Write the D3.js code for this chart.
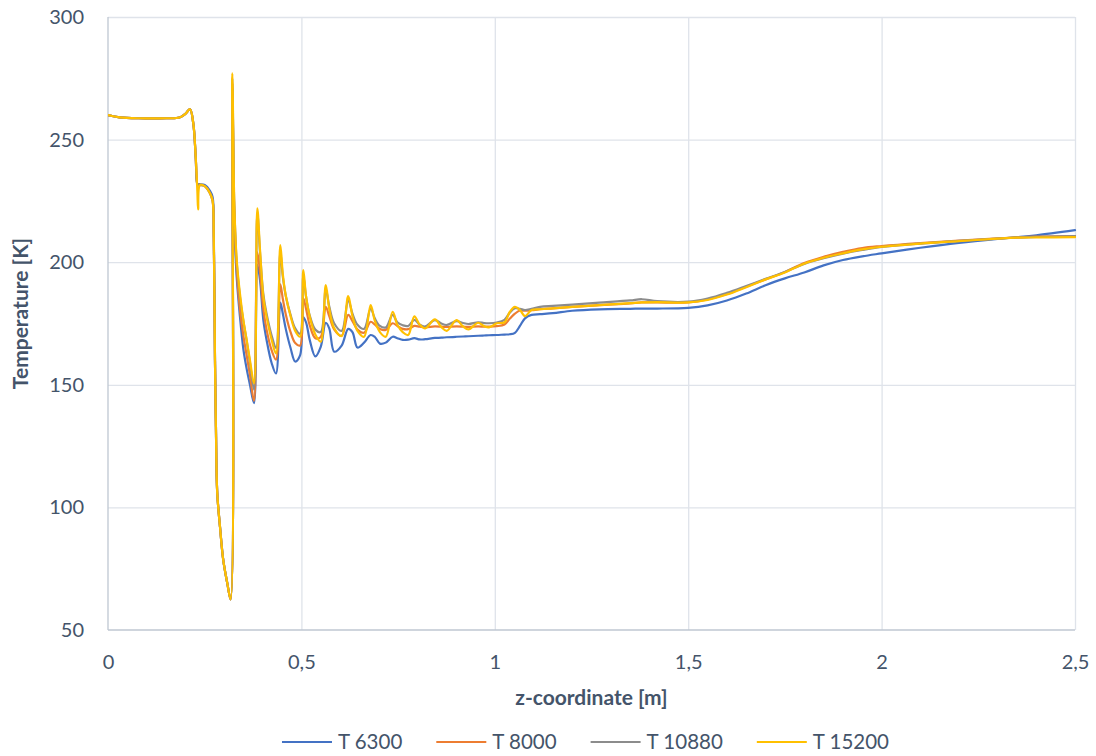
<!DOCTYPE html>
<html>
<head>
<meta charset="utf-8">
<script src="https://cdn.jsdelivr.net/npm/d3@7"></script>
<style>
  body { margin: 0; background: #ffffff; }
  svg { display: block; font-family: Lato, "Open Sans", sans-serif; }
</style>
</head>
<body>
<svg id="chart" width="1096" height="756"></svg>
<script>
// Axial position along the channel [m]
const zCoord = [0, 0.03, 0.08, 0.15, 0.185, 0.2, 0.212, 0.2205, 0.2267, 0.231,
  0.233, 0.238, 0.25, 0.264, 0.2705, 0.2735, 0.2766, 0.279, 0.2824, 0.2896,
  0.298, 0.3085, 0.317, 0.3214, 0.3257, 0.3285, 0.3327, 0.341, 0.35, 0.3585,
  0.367, 0.3775, 0.386, 0.393, 0.4016, 0.41, 0.4232, 0.4343, 0.4455, 0.452,
  0.46, 0.472, 0.484, 0.4965, 0.505, 0.512, 0.522, 0.536, 0.55, 0.563,
  0.572, 0.585, 0.604, 0.621, 0.632, 0.645, 0.662, 0.679, 0.69, 0.703,
  0.718, 0.736, 0.748, 0.762, 0.776, 0.792, 0.806, 0.82, 0.845, 0.862,
  0.876, 0.901, 0.918, 0.932, 0.957, 0.972, 0.985, 1.005, 1.025, 1.039,
  1.052, 1.065, 1.078, 1.095, 1.117, 1.15, 1.2, 1.27, 1.35, 1.38,
  1.42, 1.5, 1.55, 1.6, 1.65, 1.7, 1.75, 1.8, 1.85, 1.9,
  1.95, 2.0, 2.1, 2.2, 2.3, 2.35, 2.4, 2.5];

// Temperature [K] for each case
const t6300 = [260, 259.1, 258.7, 258.7, 259.0, 260.5, 262.4, 256.6, 243, 231.5,
  231.8, 231.8, 231.5, 229, 226.5, 212, 160, 133, 106, 92,
  78.5, 69, 62.5, 271, 222, 207.8, 194, 178, 164.5, 156.5,
  150, 142.5, 199, 192.7, 176.4, 168.3, 158.8, 154.6, 183.5, 179,
  172.5, 165, 159.5, 162, 177.5, 175.5, 168, 161.6, 165.5, 175.3,
  173, 163.5, 166, 172.8, 171.5, 165.2, 167.2, 170.3, 169.5, 166.8,
  167.2, 169.6, 169, 168.3, 168.4, 169, 168.5, 168.6, 169.1, 169.2,
  169.4, 169.6, 169.7, 169.8, 170, 170.1, 170.2, 170.3, 170.5, 170.6,
  171.2, 174, 177.1, 178.5, 178.8, 179.2, 180.2, 180.8, 181, 181.1,
  181.1, 181.4, 182.4, 184.4, 187.2, 190.6, 193.4, 195.8, 198.7, 200.9,
  202.4, 203.6, 205.9, 207.9, 209.5, 210.2, 211, 213.1];

const t8000 = [260, 259.1, 258.7, 258.7, 259.0, 260.5, 262.4, 256.6, 243, 231.5,
  231.8, 231.5, 231, 228, 225, 210, 160, 133, 106, 92,
  78.5, 69, 62.5, 273, 225, 211, 197, 181, 170, 162,
  154, 143.5, 204, 196, 181, 172.5, 164, 160.3, 191, 185,
  178.5, 171.5, 167, 166, 185.3, 181, 174, 169, 169.5, 181.8,
  178, 172.5, 170, 178.5, 176, 172.5, 171.2, 175.7, 174.5, 172.8,
  172.4, 175.1, 174, 172.8, 172.7, 174, 173.7, 173.5, 173.8, 173.7,
  173.6, 173.8, 173.7, 173.6, 173.8, 173.7, 173.7, 173.9, 174.6, 177,
  179, 180.3, 180.2, 180.4, 180.8, 181.2, 181.8, 182.5, 183.2, 183.6,
  183.6, 183.6, 184.8, 187, 190, 193, 196, 199.7, 202.2, 204.2,
  205.8, 206.6, 207.8, 208.8, 209.7, 210.1, 210.4, 210.6];

const t10880 = [260, 259.1, 258.7, 258.7, 259.0, 260.5, 262.4, 256.6, 243, 231.5,
  231.8, 231.5, 231, 228, 225, 210, 160, 133, 106, 92,
  78.5, 69, 62.5, 275, 228, 214, 200, 186, 176, 168,
  159, 148, 220, 204, 187, 179, 170, 165, 204, 194,
  186, 178.5, 173, 170.8, 194.5, 186, 178, 172.5, 171.5, 189,
  182, 175, 172, 184.5, 179, 174.5, 172.8, 181, 177, 174,
  173.4, 178.5, 175.5, 174.3, 174, 176.5, 174.5, 173.8, 176.4, 175,
  174.4, 176, 175.2, 174.8, 175.5, 175.2, 175.1, 175.4, 176.5, 179.5,
  181.2, 181, 180.5, 181, 181.8, 182.2, 182.7, 183.5, 184.4, 184.9,
  184.1, 183.9, 185.2, 187.5, 190.3, 193.2, 196, 199.3, 201.6, 203.5,
  205, 206.2, 207.6, 208.7, 209.6, 210.1, 210.3, 210.6];

const t15200 = [260, 259.1, 258.7, 258.7, 259.0, 260.5, 262.4, 256.6, 243, 229,
  221.5, 231.5, 231, 228, 225, 210, 160, 133, 106, 92,
  78.5, 69, 62.5, 277, 230, 214.5, 201, 187.4, 176.4, 168.3,
  160, 150.6, 222, 205, 186, 177.8, 168.3, 162.8, 207, 195,
  186, 178, 172, 169.6, 196.8, 186, 177.5, 170.5, 167.6, 190.7,
  181, 173, 169.9, 186.2, 178, 172, 169.6, 182.5, 176, 171.5,
  169.6, 179.8, 174.5, 171.5, 170.3, 177.9, 174.5, 173, 176.7, 173.5,
  172, 176.4, 173.8, 172.6, 175.3, 174, 173.4, 175.1, 175.5, 179.8,
  181.8, 180.5, 178, 180.5, 180.8, 181.2, 181.8, 182.5, 183.3, 183.6,
  183.7, 183.6, 184.6, 186.8, 189.8, 193, 195.8, 199.4, 201.8, 203.6,
  205.2, 206.3, 207.6, 208.6, 209.6, 210, 210.1, 210.2];

const seriesNames = ["T 6300", "T 8000", "T 10880", "T 15200"];
const seriesValues = [t6300, t8000, t10880, t15200];
const seriesColors = ["#4472C4", "#ED7D31", "#8C8C8C", "#FFC000"];

const xTickValues = [0, 0.5, 1, 1.5, 2, 2.5];
const yTickValues = [50, 100, 150, 200, 250, 300];
const xTitle = "z-coordinate [m]";
const yTitle = "Temperature [K]";

// ---- layout ----
const plot = { left: 108, right: 1075, top: 17, bottom: 630 };
const textColor = "#44546A";
const gridColor = "#DFE3EA";
const axisColor = "#BFC7D2";

const svg = d3.select("#chart");

const x = d3.scaleLinear().domain([0, 2.5]).range([plot.left, plot.right]);
const y = d3.scaleLinear().domain([50, 300]).range([plot.bottom, plot.top]);

const fmt = d => String(d).replace(".", ",");

// gridlines
svg.append("g")
  .attr("transform", `translate(0,${plot.bottom})`)
  .call(d3.axisBottom(x).tickValues(xTickValues.filter(v => v > 0))
    .tickSize(-(plot.bottom - plot.top)).tickFormat(""))
  .call(g => g.select(".domain").remove())
  .call(g => g.selectAll("line").attr("stroke", gridColor).attr("stroke-width", 1.3));

svg.append("g")
  .attr("transform", `translate(${plot.left},0)`)
  .call(d3.axisLeft(y).tickValues(yTickValues.filter(v => v > 50))
    .tickSize(-(plot.right - plot.left)).tickFormat(""))
  .call(g => g.select(".domain").remove())
  .call(g => g.selectAll("line").attr("stroke", gridColor).attr("stroke-width", 1.3));

// axis lines
svg.append("line")
  .attr("x1", plot.left).attr("x2", plot.left)
  .attr("y1", plot.top).attr("y2", plot.bottom)
  .attr("stroke", axisColor).attr("stroke-width", 1.3);
svg.append("line")
  .attr("x1", plot.left).attr("x2", plot.right)
  .attr("y1", plot.bottom).attr("y2", plot.bottom)
  .attr("stroke", axisColor).attr("stroke-width", 1.3);

// tick labels
svg.append("g")
  .attr("transform", `translate(0,${plot.bottom})`)
  .call(d3.axisBottom(x).tickValues(xTickValues).tickSize(0).tickPadding(0).tickFormat(fmt))
  .call(g => g.select(".domain").remove())
  .call(g => g.selectAll("text")
    .attr("y", 39).attr("dy", null)
    .attr("fill", textColor).attr("font-size", 20)
    .attr("font-family", "Lato, 'Open Sans', sans-serif"));

svg.append("g")
  .attr("transform", `translate(${plot.left},0)`)
  .call(d3.axisLeft(y).tickValues(yTickValues).tickSize(0).tickPadding(24).tickFormat(fmt))
  .call(g => g.select(".domain").remove())
  .call(g => g.selectAll("text")
    .attr("fill", textColor).attr("font-size", 20)
    .attr("font-family", "Lato, 'Open Sans', sans-serif"));

// axis titles
svg.append("text")
  .attr("x", (plot.left + plot.right) / 2)
  .attr("y", 705)
  .attr("text-anchor", "middle")
  .attr("font-size", 21).attr("font-weight", "bold")
  .attr("fill", textColor)
  .text(xTitle);

svg.append("text")
  .attr("transform", `translate(28,${(plot.top + plot.bottom) / 2 - 10}) rotate(-90)`)
  .attr("text-anchor", "middle")
  .attr("font-size", 21).attr("font-weight", "bold")
  .attr("fill", textColor)
  .text(yTitle);

// series lines (smoothed)
const line = d3.line()
  .x((d, i) => x(zCoord[i]))
  .y(d => y(d))
  .curve(d3.curveCatmullRom.alpha(0.5));

const clipId = "plot-clip";
svg.append("clipPath").attr("id", clipId)
  .append("rect")
  .attr("x", plot.left).attr("y", 0)
  .attr("width", plot.right - plot.left + 2).attr("height", plot.bottom);

svg.append("g").attr("clip-path", `url(#${clipId})`)
  .selectAll("path")
  .data(seriesValues)
  .join("path")
  .attr("d", d => line(d))
  .attr("fill", "none")
  .attr("stroke", (d, i) => seriesColors[i])
  .attr("stroke-width", 2.2)
  .attr("stroke-linejoin", "round")
  .attr("stroke-linecap", "round");

// legend
const legendY = 742;
const lineLen = 50, textGap = 6, entryGap = 34;
const legend = svg.append("g");
const entries = legend.selectAll("g")
  .data(seriesNames)
  .join("g");
entries.append("line")
  .attr("x1", 0).attr("x2", lineLen)
  .attr("y1", 0).attr("y2", 0)
  .attr("stroke", (d, i) => seriesColors[i])
  .attr("stroke-width", 2.2);
entries.append("text")
  .attr("x", lineLen + textGap)
  .attr("dy", "0.35em")
  .attr("font-size", 20.5)
  .attr("fill", textColor)
  .text(d => d);

let widths = [];
entries.each(function () {
  widths.push(lineLen + textGap + d3.select(this).select("text").node().getComputedTextLength());
});
const total = d3.sum(widths) + entryGap * (widths.length - 1);
let cx = 585.5 - total / 2;
entries.attr("transform", (d, i) => {
  const t = `translate(${cx},${legendY})`;
  cx += widths[i] + entryGap;
  return t;
});
</script>
</body>
</html>
